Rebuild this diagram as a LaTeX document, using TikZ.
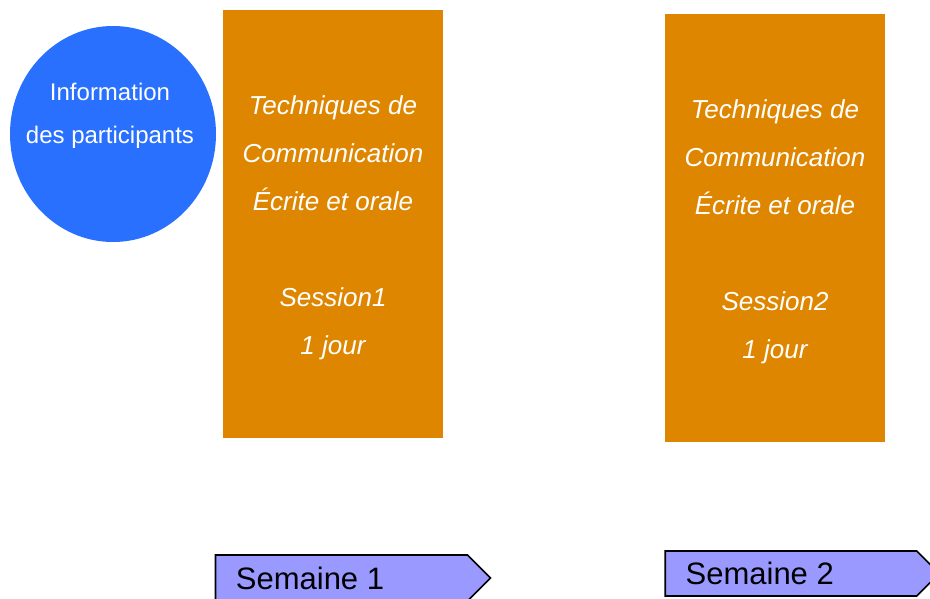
\documentclass[tikz,border=0pt]{standalone}
\usepackage{fontspec}
\setmainfont{Liberation Sans}
\usetikzlibrary{positioning}
\usetikzlibrary{shapes.geometric,shapes.symbols}
\definecolor{infoblue}{HTML}{2970FF}
\definecolor{sessorange}{HTML}{DF8600}
\definecolor{weekblue}{HTML}{9999FF}

\begin{document}
\begin{tikzpicture}[x=1pt,y=-1pt]
\tikzstyle{info}=[shape=ellipse,fill=infoblue,minimum width=206pt,minimum height=216pt,inner sep=0pt]
\tikzstyle{infotext}=[inner sep=0pt,text=white,align=center,font=\fontsize{24}{43}\selectfont]
\tikzstyle{sess}=[shape=rectangle,fill=sessorange,minimum width=220pt,minimum height=428pt,inner sep=0pt,
  text=white,align=center,font=\fontsize{26}{48}\selectfont\itshape]
\tikzstyle{week}=[shape=signal,signal to=east,signal pointer angle=90,draw=black,line width=1.6pt,
  fill=weekblue,inner sep=0pt]
\tikzstyle{weektext}=[inner sep=0pt,text=black,font=\fontsize{31}{36}\selectfont]

\useasboundingbox[fill=white] (0,0) rectangle (930,598);

% information circle
\draw (113,134) node[info] (info) {}; % info
\draw (110,135) node[infotext] (infot) {Information\\des participants\\\mbox{}};

% two sessions
\draw (333,224) node[sess] (sess1) {\rule{0pt}{26pt}Techniques de\\Communication\\Écrite et orale\\\mbox{}\\Session1\\1 jour}; % session 1
\draw (775,228) node[sess] (sess2) {\rule{0pt}{26pt}Techniques de\\Communication\\Écrite et orale\\\mbox{}\\Session2\\1 jour}; % session 2

% week arrows
\draw (341.5,578) node[week,minimum width=275pt,minimum height=46pt] (week1) {}; % week 1
\node[weektext,right=21pt of week1.west] (wk1) {Semaine 1};
\draw (791,573.5) node[week,minimum width=274pt,minimum height=45pt] (week2) {}; % week 2
\node[weektext,right=21pt of week2.west] (wk2) {Semaine 2};
\end{tikzpicture}
\end{document}
